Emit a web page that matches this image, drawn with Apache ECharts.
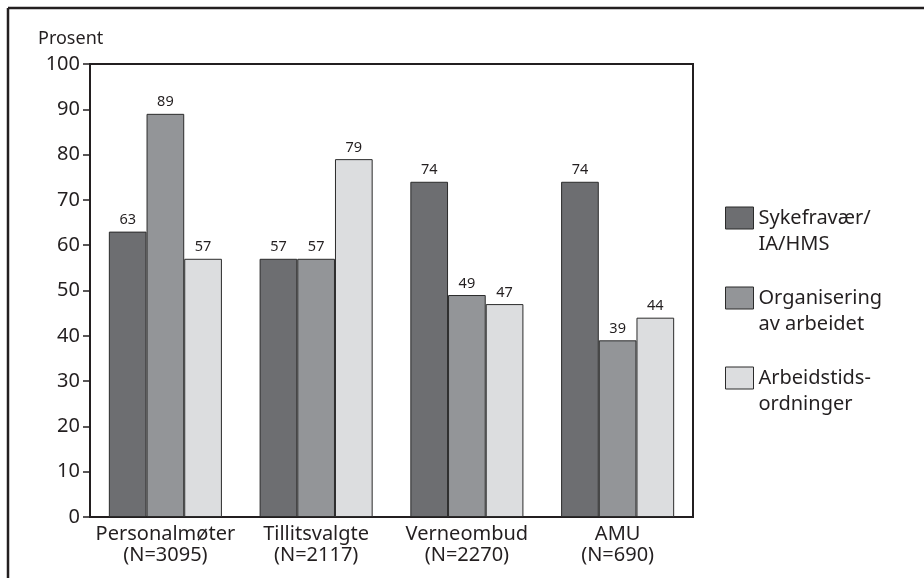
<!DOCTYPE html>
<html>
<head>
<meta charset="utf-8">
<script src="https://cdn.jsdelivr.net/npm/echarts@6/dist/echarts.min.js"></script>
<style>
  html, body { margin: 0; padding: 0; background: #fff; }
  #chart { width: 924px; height: 578px; }
</style>
</head>
<body>
<div id="chart"></div>
<script>
// Categories (forum) and the share (%) that discusses each topic
var categories = ['Personalmøter\n(N=3095)', 'Tillitsvalgte\n(N=2117)', 'Verneombud\n(N=2270)', 'AMU\n(N=690)'];
var sykefravaer = [63, 57, 74, 74];
var organisering = [89, 57, 49, 39];
var arbeidstid = [57, 79, 47, 44];
var seriesNames = ['Sykefravær/\nIA/HMS', 'Organisering\nav arbeidet', 'Arbeidstids-\nordninger'];
var seriesColors = ['#6d6e71', '#939598', '#dcdddf'];
var yTicks = [0, 10, 20, 30, 40, 50, 60, 70, 80, 90, 100];

var FONT = 'Noto Sans';
var chart = echarts.init(document.getElementById('chart'), null, { renderer: 'canvas' });

function barSeries(name, data, color) {
  return {
    name: name,
    type: 'bar',
    data: data,
    barGap: '0%',
    barCategoryGap: '25%',
    itemStyle: { color: color, borderColor: '#2b2b2b', borderWidth: 1 },
    label: {
      show: true, position: 'top', distance: 4,
      fontFamily: FONT, fontSize: 14.5, color: '#231f20'
    }
  };
}

chart.setOption({
  animation: false,
  backgroundColor: '#ffffff',
  grid: {
    left: 90, right: 231, top: 64, bottom: 61,
    show: true, borderColor: '#231f20', borderWidth: 2, backgroundColor: 'transparent'
  },
  legend: {
    orient: 'vertical',
    left: 720,
    top: 174,
    itemWidth: 28,
    itemHeight: 22,
    itemGap: 2,
    itemTextGap: 13,
    icon: 'rect',
    itemStyle: { borderColor: '#2b2b2b', borderWidth: 1 },
    // a leading blank line puts the first text line level with the swatch
    formatter: function (name) { return '\n' + name; },
    textStyle: {
      fontFamily: FONT, fontSize: 20, color: '#231f20', lineHeight: 26
    },
    data: seriesNames
  },
  xAxis: {
    type: 'category',
    data: categories,
    axisLine: { show: true, lineStyle: { color: '#231f20', width: 2 } },
    axisTick: { show: false },
    axisLabel: {
      interval: 0,
      fontFamily: FONT, fontSize: 20, color: '#231f20',
      lineHeight: 21, margin: 7
    }
  },
  yAxis: {
    type: 'value',
    min: yTicks[0],
    max: yTicks[yTicks.length - 1],
    interval: 10,
    name: 'Prosent',
    nameLocation: 'end',
    nameGap: 16,
    nameTextStyle: { fontFamily: FONT, fontSize: 18, color: '#231f20', align: 'left', padding: [0, 0, 0, -52] },
    splitLine: { show: false },
    axisLine: { show: true, lineStyle: { color: '#231f20', width: 2 } },
    axisTick: { show: true, inside: false, length: 7, lineStyle: { color: '#231f20', width: 1.5 } },
    axisLabel: {
      fontFamily: FONT, fontSize: 20, color: '#231f20', margin: 10
    }
  },
  graphic: [
    { type: 'line', shape: { x1: 8, y1: 8, x2: 924, y2: 8 }, style: { stroke: '#231f20', lineWidth: 2.5 } },
    { type: 'line', shape: { x1: 8, y1: 8, x2: 8, y2: 578 }, style: { stroke: '#231f20', lineWidth: 2.5 } }
  ],
  series: [
    barSeries(seriesNames[0], sykefravaer, seriesColors[0]),
    barSeries(seriesNames[1], organisering, seriesColors[1]),
    barSeries(seriesNames[2], arbeidstid, seriesColors[2])
  ]
});
</script>
</body>
</html>
